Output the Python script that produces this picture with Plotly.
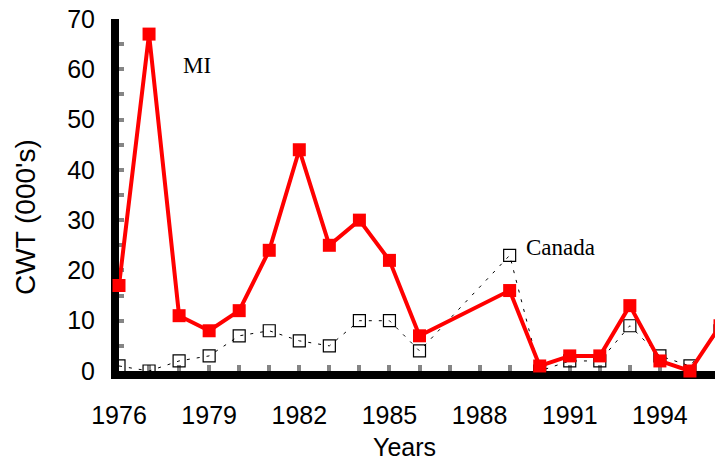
import plotly.graph_objects as go

years = [1976, 1977, 1978, 1979, 1980, 1981, 1982, 1983, 1984, 1985, 1986,
         1989, 1990, 1991, 1992, 1993, 1994, 1995, 1996]
mi = [17, 67, 11, 8, 12, 24, 44, 25, 30, 22, 7, 16, 1, 3, 3, 13, 2, 0, 9]
canada = [1, 0, 2, 3, 7, 8, 6, 5, 10, 10, 4, 23, 0, 2, 2, 9, 3, 1, 8]

x_ticks = [1976, 1979, 1982, 1985, 1988, 1991, 1994]
y_ticks = [0, 10, 20, 30, 40, 50, 60, 70]

fig = go.Figure()
fig.add_trace(go.Scatter(x=years, y=canada, mode='lines+markers', name='Canada',
                         line=dict(color='black', width=1, dash='3px,7px'),
                         marker=dict(symbol='square-open', size=12, color='black',
                                     line=dict(width=1.2)),
                         cliponaxis=False))
fig.add_trace(go.Scatter(x=years, y=mi, mode='lines+markers', name='MI',
                         line=dict(color='#ff0000', width=4),
                         marker=dict(symbol='square', size=13, color='#ff0000'),
                         cliponaxis=False))

fig.add_annotation(x=1978.6, y=60.8, text='MI', showarrow=False,
                   font=dict(family='Liberation Serif', size=23, color='black'))
fig.add_annotation(x=1990.7, y=24.5, text='Canada', showarrow=False,
                   font=dict(family='Liberation Serif', size=23, color='black'))
# axis titles (positions relative to the plot area)
fig.add_annotation(xref='paper', yref='paper', x=(404 - 119) / 604, y=(371 - 447) / 352,
                   xanchor='center', yanchor='middle',
                   text='Years', showarrow=False,
                   font=dict(family='Liberation Sans', size=25, color='black'))
fig.add_annotation(xref='paper', yref='paper', x=(25 - 119) / 604, y=(371 - 217) / 352,
                   xanchor='center', yanchor='middle',
                   text="CWT (000's)", showarrow=False, textangle=-90,
                   font=dict(family='Liberation Sans', size=28, color='black'))

axis_font = dict(family='Liberation Sans', size=25, color='black')
tick_gray = '#858585'
# page body has an 8px margin, so the plot box is shifted back by it
fig.update_layout(
    width=723, height=461,
    plot_bgcolor='white', paper_bgcolor='white',
    showlegend=False,
    margin=dict(l=111, r=8, t=11, b=98),
    xaxis=dict(range=[1976, 1996.1], tickvals=x_ticks, ticktext=[str(v) for v in x_ticks],
               minor=dict(dtick=1, tick0=1976, ticks='inside', ticklen=6, tickwidth=4,
                          tickcolor=tick_gray),
               ticks='inside', ticklen=6, tickwidth=4, tickcolor=tick_gray,
               ticklabelstandoff=15, automargin=False, ticklabeloverflow='allow',
               showline=True, linecolor='black', linewidth=8, showgrid=False,
               zeroline=False, tickfont=axis_font, layer='below traces'),
    yaxis=dict(range=[0, 70], tickvals=y_ticks,
               minor=dict(dtick=5, tick0=0, ticks='inside', ticklen=5, tickwidth=4,
                          tickcolor=tick_gray),
               ticks='inside', ticklen=5, tickwidth=4, tickcolor=tick_gray,
               ticklabelstandoff=11, automargin=False, ticklabeloverflow='allow',
               showline=True, linecolor='black', linewidth=8, showgrid=False,
               zeroline=False, tickfont=axis_font, layer='below traces'),
    # overlay axes without a line, so their outer ticks run across the black axis line
    xaxis2=dict(overlaying='x', anchor='y', side='bottom', range=[1976, 1996.1],
                dtick=1, tick0=1976, ticks='outside', ticklen=17, tickwidth=4,
                tickcolor=tick_gray, showticklabels=False, showgrid=False,
                zeroline=False, showline=False, automargin=False, layer='below traces'),
    yaxis2=dict(overlaying='y', anchor='x', side='left', range=[0, 70],
                dtick=5, tick0=0, ticks='outside', ticklen=11, tickwidth=4,
                tickcolor=tick_gray, showticklabels=False, showgrid=False,
                zeroline=False, showline=False, automargin=False, layer='below traces'),
)

fig.write_html("out.html")
